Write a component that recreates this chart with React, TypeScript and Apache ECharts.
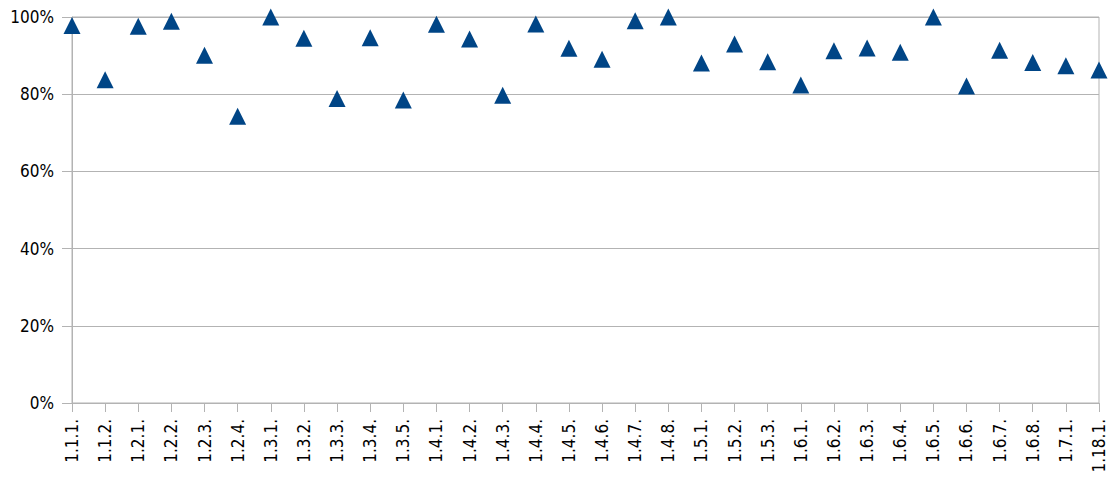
import React, { useEffect, useRef } from "react";
import * as echarts from "echarts";

const categories = [
  "1.1.1.", "1.1.2.", "1.2.1.", "1.2.2.", "1.2.3.", "1.2.4.", "1.3.1.", "1.3.2.",
  "1.3.3.", "1.3.4.", "1.3.5.", "1.4.1.", "1.4.2.", "1.4.3.", "1.4.4.", "1.4.5.",
  "1.4.6.", "1.4.7.", "1.4.8.", "1.5.1.", "1.5.2.", "1.5.3.", "1.6.1.", "1.6.2.",
  "1.6.3.", "1.6.4.", "1.6.5.", "1.6.6.", "1.6.7.", "1.6.8.", "1.7.1.", "1.18.1.",
];

const values = [
  0.978, 0.8375, 0.976, 0.989, 0.901, 0.743, 1.0, 0.945,
  0.789, 0.946, 0.785, 0.981, 0.943, 0.797, 0.982, 0.919,
  0.8905, 0.99, 1.0, 0.881, 0.93, 0.884, 0.824, 0.9125,
  0.92, 0.909, 1.0, 0.821, 0.914, 0.882, 0.874, 0.863,
];

const yTicks = [0, 0.2, 0.4, 0.6, 0.8, 1.0];

export default function App() {
  const ref = useRef<HTMLDivElement>(null);
  useEffect(() => {
    document.body.style.margin = "0";
    if (!ref.current) return;
    const chart = echarts.init(ref.current, undefined, { renderer: "svg" });
    const font = "DejaVu Sans Condensed";
    chart.setOption({
      animation: false,
      grid: {
        left: 72,
        right: 12,
        top: 17,
        bottom: 74,
        containLabel: false,
        show: true,
        borderColor: "#b3b3b3",
        borderWidth: 1,
      },
      xAxis: {
        type: "category",
        data: categories,
        boundaryGap: false,
        axisLine: { show: true, lineStyle: { color: "#b3b3b3", width: 1 } },
        axisTick: { show: true, interval: 0, length: 9, lineStyle: { color: "#b3b3b3" } },
        axisLabel: {
          interval: 0,
          rotate: 90,
          margin: 16,
          color: "#000000",
          fontFamily: font,
          fontSize: 17,
        },
        splitLine: { show: false },
      },
      yAxis: {
        type: "value",
        min: 0,
        max: 1,
        interval: 0.2,
        axisLine: { show: true, lineStyle: { color: "#b3b3b3", width: 1 } },
        axisTick: { show: true, length: 10, lineStyle: { color: "#b3b3b3" } },
        axisLabel: {
          margin: 18,
          color: "#000000",
          fontFamily: font,
          fontSize: 17,
          formatter: (v: number) => {
            const found = yTicks.find((t) => Math.abs(t - v) < 1e-9);
            return found !== undefined ? Math.round(found * 100) + "%" : "";
          },
        },
        splitLine: { show: true, lineStyle: { color: "#b3b3b3", width: 1 } },
      },
      series: [
        {
          type: "scatter",
          data: values,
          symbol: "triangle",
          symbolSize: [17, 17],
          itemStyle: { color: "#004586", opacity: 1 },
        },
      ],
    });
    return () => chart.dispose();
  }, []);
  return <div ref={ref} style={{ width: 1111, height: 477 }} />;
}
